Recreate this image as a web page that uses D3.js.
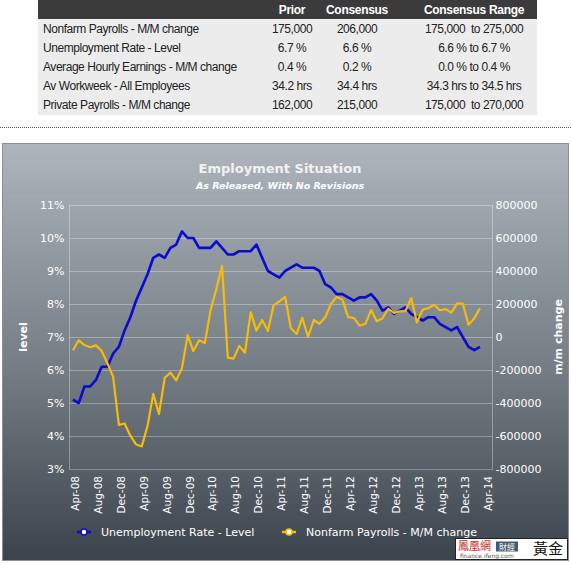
<!DOCTYPE html>
<html><head><meta charset="utf-8">
<script src="https://cdn.jsdelivr.net/npm/d3@7"></script>
<style>body{margin:0;background:#fff}svg{display:block}</style>
</head><body>
<svg id="c" width="571" height="563"></svg>
<script>
// ---- table data ----
const tableHeader = ["", "Prior", "Consensus", "Consensus Range"];
const tableRows = ["Nonfarm Payrolls - M/M change","Unemployment Rate - Level","Average Hourly Earnings - M/M change","Av Workweek - All Employees","Private Payrolls - M/M change"];
const tablePrior = ["175,000","6.7 %","0.4 %","34.2 hrs","162,000"];
const tableConsensus = ["206,000","6.6 %","0.2 %","34.4 hrs","215,000"];
const tableRange = ["175,000  to 275,000","6.6 % to 6.7 %","0.0 % to 0.4 %","34.3 hrs to 34.5 hrs","175,000  to 270,000"];

// ---- chart data: Mar-08 .. Feb-14 (monthly) ----
const unemployment = [5.1,5.0,5.5,5.5,5.7,6.1,6.1,6.5,6.7,7.2,
  7.6,8.1,8.5,8.9,9.4,9.5,9.4,9.7,9.8,10.2,10.0,10.0,
  9.7,9.7,9.7,9.9,9.7,9.5,9.5,9.6,9.6,9.6,9.8,9.4,
  9.0,8.9,8.8,9.0,9.1,9.2,9.1,9.1,9.1,9.0,8.6,8.5,
  8.3,8.3,8.2,8.1,8.2,8.2,8.3,8.1,7.8,7.9,7.7,7.8,
  7.9,7.7,7.6,7.5,7.6,7.6,7.4,7.3,7.2,7.3,7.0,6.7,
  6.6,6.7];
const payrolls = [-80000,-20000,-49000,-62000,-51000,-84000,-159000,-240000,-533000,-524000,
  -598000,-651000,-663000,-539000,-345000,-467000,-247000,-216000,-263000,-190000,11000,-85000,
  -20000,-36000,162000,290000,431000,-125000,-131000,-54000,-95000,151000,39000,103000,
  36000,192000,216000,244000,54000,18000,117000,0,103000,80000,120000,200000,
  243000,227000,120000,115000,69000,80000,163000,96000,114000,171000,146000,155000,
  157000,236000,88000,165000,175000,195000,162000,169000,148000,204000,203000,74000,
  113000,175000];
const xTickLabels = ["Apr-08","Aug-08","Dec-08","Apr-09","Aug-09","Dec-09","Apr-10","Aug-10","Dec-10","Apr-11","Aug-11","Dec-11","Apr-12","Aug-12","Dec-12","Apr-13","Aug-13","Dec-13","Apr-14"];
const xTickIndex = xTickLabels.map((d,i)=>1+4*i);
const leftTicks = [3,4,5,6,7,8,9,10,11];
const rightTicks = [-800000,-600000,-400000,-200000,0,200000,400000,600000,800000];
const seriesNames = ["Unemployment Rate - Level","Nonfarm Payrolls - M/M change"];
const seriesColors = ["#0a0ad0","#f8bb08"];

const svg = d3.select("#c");
const font = "'DejaVu Sans', Verdana, sans-serif";

// ---- table ----
const tX0 = 38, tX1 = 537, hH = 19, rH = 19;
svg.append("rect").attr("x",tX0).attr("y",0).attr("width",tX1-tX0).attr("height",hH).attr("fill","#3b3b3b");
svg.append("rect").attr("x",tX0).attr("y",hH).attr("width",tX1-tX0).attr("height",rH*tableRows.length+1).attr("fill","#ececec");
const colX = [43, 292, 357, 474];
const tFont = "'Liberation Sans', Arial, sans-serif";
tableHeader.forEach((h,i)=>{ if(!h) return;
  svg.append("text").attr("x",colX[i]).attr("y",hH/2).attr("dy","0.36em").attr("text-anchor","middle")
    .attr("font-family",tFont).attr("font-size",12).attr("font-weight","bold").attr("fill","#fff").attr("letter-spacing","-0.3").text(h);
});
tableRows.forEach((r,i)=>{
  const y = hH + rH*i + rH/2;
  const vals = [r, tablePrior[i], tableConsensus[i], tableRange[i]];
  vals.forEach((v,j)=>{
    svg.append("text").attr("x",colX[j]).attr("y",y).attr("dy","0.36em")
      .attr("text-anchor", j===0?"start":"middle").attr("xml:space","preserve")
      .attr("font-family",tFont).attr("font-size",12).attr("letter-spacing","-0.45").attr("fill","#222").text(v);
  });
});
// dotted separator
svg.append("line").attr("x1",0).attr("x2",571).attr("y1",127.5).attr("y2",127.5)
  .attr("stroke","#555").attr("stroke-width",1).attr("stroke-dasharray","1,1");

// ---- panel ----
const defs = svg.append("defs");
const g = defs.append("linearGradient").attr("id","bg").attr("x1",0).attr("y1",0).attr("x2",0).attr("y2",1);
g.append("stop").attr("offset","0%").attr("stop-color","#aeb5bd");
g.append("stop").attr("offset","55%").attr("stop-color","#737b83");
g.append("stop").attr("offset","100%").attr("stop-color","#3b434c");
svg.append("rect").attr("x",2.5).attr("y",143.5).attr("width",566).attr("height",417)
  .attr("fill","url(#bg)").attr("stroke","#8a8f95");

svg.append("text").attr("x",280).attr("y",173).attr("text-anchor","middle").attr("font-family",font)
  .attr("font-size",13).attr("font-weight","bold").attr("fill","#f2f2f2").text("Employment Situation");
svg.append("text").attr("x",280).attr("y",189).attr("text-anchor","middle").attr("font-family",font)
  .attr("font-size",9.5).attr("font-weight","bold").attr("font-style","italic").attr("fill","#fff").text("As Released, With No Revisions");

// ---- scales ----
const pL = 69.5, pR = 492.5, pT = 205, pB = 469;
const x = d3.scaleLinear().domain([0, unemployment.length-1]).range([73, 480]);
const yL = d3.scaleLinear().domain([3, 11]).range([pB, pT]);
const yR = d3.scaleLinear().domain([-800000, 800000]).range([pB, pT]);

// grid
svg.append("g").selectAll("line").data(leftTicks).join("line")
  .attr("x1",pL).attr("x2",pR).attr("y1",d=>Math.round(yL(d))+0.5).attr("y2",d=>Math.round(yL(d))+0.5)
  .attr("stroke","rgba(255,255,255,0.3)");
svg.append("line").attr("x1",pL).attr("x2",pL).attr("y1",pT).attr("y2",pB+0.5).attr("stroke","rgba(255,255,255,0.35)");
svg.append("line").attr("x1",pR).attr("x2",pR).attr("y1",pT).attr("y2",pB+0.5).attr("stroke","rgba(255,255,255,0.35)");

// left axis labels
const axL = svg.append("g").attr("transform",`translate(${pL},0)`)
  .call(d3.axisLeft(yL).tickValues(leftTicks).tickFormat(d=>d+"%").tickSize(0).tickPadding(5));
axL.select(".domain").remove();
axL.selectAll("text").attr("font-family",font).attr("font-size",11).attr("fill","#fff");
// right axis labels
const axR = svg.append("g").attr("transform",`translate(${pR},0)`)
  .call(d3.axisRight(yR).tickValues(rightTicks).tickFormat(d=>String(d)).tickSize(0).tickPadding(3));
axR.select(".domain").remove();
axR.selectAll("text").attr("font-family",font).attr("font-size",11).attr("fill","#fff");

// x labels
const axB = svg.append("g").attr("transform",`translate(0,${pB})`)
  .call(d3.axisBottom(x).tickValues(xTickIndex).tickFormat((d,i)=>xTickLabels[i]).tickSize(0));
axB.select(".domain").remove();
axB.selectAll("text").attr("font-family",font).attr("font-size",10.5).attr("fill","#fff")
  .attr("text-anchor","end").attr("transform","rotate(-90)").attr("x",-7).attr("y",-4).attr("dy","0.35em");

// axis titles
svg.append("text").attr("transform","translate(27,337) rotate(-90)").attr("text-anchor","middle")
  .attr("font-family",font).attr("font-size",11).attr("font-weight","bold").attr("fill","#fff").text("level");
svg.append("text").attr("transform","translate(562,337) rotate(-90)").attr("text-anchor","middle")
  .attr("font-family",font).attr("font-size",11).attr("font-weight","bold").attr("fill","#fff").text("m/m change");

// lines
svg.append("path").datum(unemployment).attr("fill","none").attr("stroke",seriesColors[0]).attr("stroke-width",2.6)
  .attr("stroke-linejoin","round").attr("d",d3.line().x((d,i)=>x(i)).y(d=>yL(d)));
svg.append("path").datum(payrolls).attr("fill","none").attr("stroke",seriesColors[1]).attr("stroke-width",2.2)
  .attr("stroke-linejoin","round").attr("d",d3.line().x((d,i)=>x(i)).y(d=>yR(d)));

// legend
const legX = [84, 289], legY = 532;
seriesNames.forEach((n,i)=>{
  const lg = svg.append("g").attr("transform",`translate(${legX[i]},${legY})`);
  lg.append("line").attr("x1",-7).attr("x2",7).attr("stroke",seriesColors[i]).attr("stroke-width",2.5);
  lg.append("circle").attr("r",3).attr("fill","#fff").attr("stroke",seriesColors[i]).attr("stroke-width",1.5);
  lg.append("text").attr("x",17).attr("dy","0.35em").attr("font-family",font).attr("font-size",11).attr("fill","#fff").text(n);
});

// logo
const lgo = svg.append("g");
lgo.append("rect").attr("x",455.5).attr("y",538.5).attr("width",112).attr("height",21).attr("fill","#fff").attr("stroke","#222");
lgo.append("text").attr("x",458).attr("y",550).attr("font-family","'Noto Sans CJK TC'").attr("font-size",11).attr("fill","#c62a22").text("鳳凰網");
lgo.append("rect").attr("x",496).attr("y",541.5).attr("width",22).attr("height",10).attr("fill","#445a70");
lgo.append("text").attr("x",507).attr("y",549.5).attr("text-anchor","middle").attr("font-family","'Noto Sans CJK TC'").attr("font-size",8).attr("fill","#fff").text("財經");
lgo.append("text").attr("x",460).attr("y",558).attr("font-family",font).attr("font-size",6).attr("fill","#555").text("finance.ifeng.com");
lgo.append("text").attr("x",548).attr("y",554).attr("text-anchor","middle").attr("font-family","'Noto Sans CJK TC'").attr("font-size",15).attr("fill","#111").text("黃金");
</script>
</body></html>
